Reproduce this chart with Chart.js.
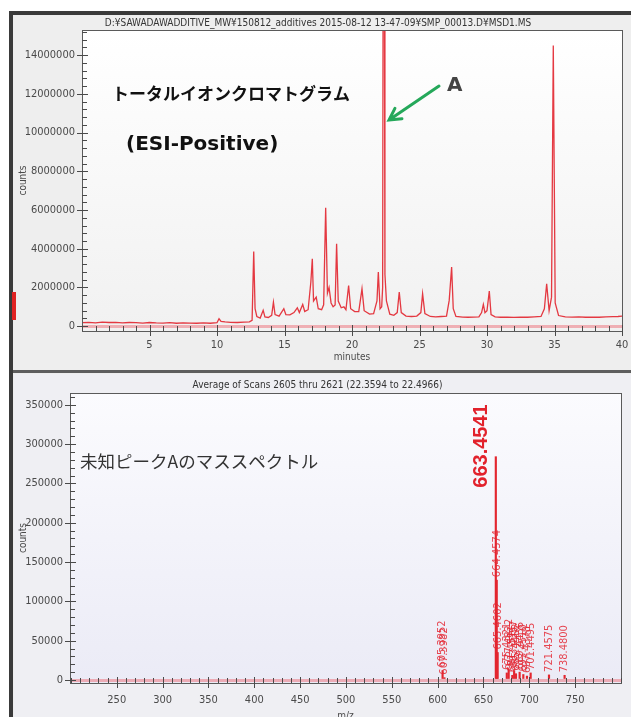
<!DOCTYPE html>
<html>
<head>
<meta charset="utf-8">
<script src="https://cdn.jsdelivr.net/npm/chart.js@4.4.0/dist/chart.umd.min.js"></script>
<style>
html, body { margin: 0; padding: 0; width: 631px; height: 717px; overflow: hidden; background: #fff; }
#frame { position: absolute; left: 9px; top: 11px; width: 640px; height: 720px; box-sizing: border-box;
         border-left: 4px solid #3a3a3a; border-top: 4px solid #3a3a3a; background: #ededed; }
#tic { position: absolute; left: 14px; top: 16px; }
#ms { position: absolute; left: 14px; top: 374px; }
#sep { position: absolute; left: 13px; top: 370px; width: 620px; height: 3px; background: #5e5e5e; }
#mark { position: absolute; left: 12px; top: 292px; width: 4px; height: 28px; background: #e02222; }
</style>
</head>
<body>
<div id="frame"></div>
<canvas id="tic" width="617" height="354"></canvas>
<div id="sep"></div>
<canvas id="ms" width="617" height="360"></canvas>
<div id="mark"></div>
<script>
// total ion chromatogram
const ticMinutes = [0.0, 0.5, 1.0, 1.5, 2.0, 2.5, 3.0, 3.5, 4.0, 4.5, 5.0, 5.5, 6.0, 6.5, 7.0, 7.5, 8.0, 8.5, 9.0, 9.5,
  10.0, 10.15, 10.3, 10.6, 11.0, 11.5, 12.0, 12.4, 12.6, 12.72, 12.82, 12.95, 13.2, 13.42, 13.55, 13.8, 14.05, 14.18, 14.3, 14.6,
  14.95, 15.1, 15.4, 15.7, 15.95, 16.1, 16.35, 16.5, 16.75, 16.95, 17.06, 17.15, 17.35, 17.5, 17.75, 17.9, 18.05, 18.18, 18.3, 18.45,
  18.6, 18.75, 18.86, 18.98, 19.2, 19.4, 19.55, 19.75, 19.9, 20.2, 20.5, 20.74, 20.9, 21.3, 21.6, 21.85, 21.95, 22.08, 22.2, 22.27,
  22.30, 22.40, 22.44, 22.55, 22.8, 23.1, 23.35, 23.5, 23.65, 24.0, 24.4, 24.8, 25.1, 25.23, 25.4, 25.8, 26.2, 26.6, 27.0, 27.2,
  27.38, 27.5, 27.7, 28.2, 28.6, 29.0, 29.4, 29.6, 29.73, 29.85, 30.0, 30.17, 30.3, 30.6, 31.0, 31.5, 32.0, 32.5, 33.0, 33.5,
  34.0, 34.25, 34.42, 34.6, 34.78, 34.91, 35.05, 35.3, 35.8, 36.3, 36.8, 37.3, 37.8, 38.3, 38.8, 39.3, 39.7, 40.0];
const ticCounts = [180000, 200000, 170000, 210000, 190000, 200000, 170000, 190000, 180000, 160000, 190000, 170000, 160000, 180000, 150000, 170000, 160000, 150000, 170000, 150000,
  180000, 380000, 250000, 220000, 200000, 190000, 210000, 220000, 300000, 3850000, 900000, 500000, 420000, 820000, 480000, 450000, 560000, 1240000, 600000, 520000,
  900000, 600000, 580000, 700000, 950000, 700000, 1120000, 760000, 850000, 2270000, 3480000, 1300000, 1500000, 900000, 850000, 1100000, 6120000, 1700000, 2000000, 1200000,
  1000000, 1100000, 4260000, 1300000, 950000, 1000000, 850000, 2100000, 900000, 750000, 750000, 1930000, 800000, 620000, 650000, 1300000, 2790000, 900000, 1000000, 2000000,
  16500000, 16500000, 2670000, 1300000, 620000, 560000, 700000, 1760000, 700000, 520000, 500000, 520000, 700000, 1670000, 650000, 500000, 480000, 500000, 520000, 1330000,
  3050000, 900000, 500000, 470000, 460000, 470000, 480000, 700000, 1120000, 700000, 800000, 1810000, 600000, 480000, 460000, 470000, 450000, 470000, 460000, 480000,
  500000, 900000, 2190000, 800000, 1500000, 14500000, 1200000, 550000, 480000, 470000, 480000, 460000, 470000, 460000, 480000, 490000, 500000, 520000];
const ticXTicks = [5, 10, 15, 20, 25, 30, 35, 40];
const ticYTicks = [0, 2000000, 4000000, 6000000, 8000000, 10000000, 12000000, 14000000];

// mass spectrum of unknown peak A
const msMz = [605.3952, 607.3982, 663.4541, 664.4574, 665.4602, 675.4321, 677.4822, 681.4511, 683.4357,
  685.4402, 689.4436, 693.4510, 697.4378, 701.4495, 721.4575, 738.4800];
const msCounts = [12000, 3000, 284000, 127000, 35000, 9000, 14000, 6000, 12000,
  8000, 10000, 7000, 5000, 9000, 6500, 6000];
const msPeakLabels = ['605.3952', '607.3982', '', '664.4574', '665.4602', '675.4321', '677.4822', '681.4511', '683.4357',
  '685.4402', '689.4436', '693.4510', '697.4378', '701.4495', '721.4575', '738.4800'];
const msBasePeak = '663.4541';
const msXTicks = [250, 300, 350, 400, 450, 500, 550, 600, 650, 700, 750];
const msYTicks = [0, 50000, 100000, 150000, 200000, 250000, 300000, 350000];

const NARROW = "'Liberation Sans Narrow', 'DejaVu Sans Condensed', sans-serif";
const AXIS_GREY = '#4a4a4a';

function fixWidth(w) { return s => { s.width = w; }; }
function fixHeight(h) { return s => { s.height = h; s.paddingLeft = 0; s.paddingRight = 0; }; }
function useTicks(arr) { return s => { s.ticks = arr.map(v => ({ value: v })); }; }
function zeroLine(ctx) { return ctx.tick && ctx.tick.value === 0 ? 'rgba(236,120,130,0.55)' : 'rgba(0,0,0,0)'; }

// background, plot frame and the minor / major tick marks
const panel = {
  id: 'panel',
  beforeDraw(chart, args, o) {
    const { ctx, chartArea: a } = chart;
    ctx.save();
    ctx.fillStyle = o.bg;
    ctx.fillRect(0, 0, chart.width, chart.height);
    const g = ctx.createLinearGradient(0, a.top, 0, a.bottom);
    g.addColorStop(0, o.plotTop);
    g.addColorStop(1, o.plotBottom);
    ctx.fillStyle = g;
    ctx.fillRect(a.left, a.top, a.right - a.left, a.bottom - a.top);
    ctx.restore();
  },
  afterDatasetsDraw(chart, args, o) {
    const { ctx, chartArea: a, scales } = chart;
    const x = scales.x, y = scales.y;
    ctx.save();
    ctx.strokeStyle = '#5a5a5a';
    ctx.lineWidth = 1;
    ctx.strokeRect(Math.round(a.left) + 0.5, Math.round(a.top) + 0.5, Math.round(a.right - a.left), Math.round(a.bottom - a.top));
    ctx.strokeStyle = AXIS_GREY;
    ctx.beginPath();
    for (let i = 0; ; i++) {
      const v = o.xStart + i * o.xMinor;
      if (v > x.max) break;
      if (v < x.min) continue;
      const px = Math.round(x.getPixelForValue(v)) + 0.5;
      ctx.moveTo(px, a.bottom - 5);
      ctx.lineTo(px, a.bottom);
    }
    for (let i = 0; ; i++) {
      const v = i * o.yMinor;
      if (v > y.max) break;
      const py = Math.round(y.getPixelForValue(v)) + 0.5;
      ctx.moveTo(a.left, py);
      ctx.lineTo(a.left + 5, py);
    }
    x.ticks.forEach(t => {
      const px = Math.round(x.getPixelForValue(t.value)) + 0.5;
      ctx.moveTo(px, a.bottom - 6);
      ctx.lineTo(px, a.bottom + 5);
    });
    y.ticks.forEach(t => {
      const py = Math.round(y.getPixelForValue(t.value)) + 0.5;
      ctx.moveTo(a.left - 5, py);
      ctx.lineTo(a.left + 6, py);
    });
    ctx.stroke();
    ctx.restore();
  }
};

// free text and the arrow
const notes = {
  id: 'notes',
  afterDraw(chart, args, o) {
    const ctx = chart.ctx;
    ctx.save();
    (o.texts || []).forEach(t => {
      ctx.font = t.font;
      ctx.fillStyle = t.color;
      ctx.textAlign = 'left';
      ctx.textBaseline = 'middle';
      ctx.fillText(t.text, t.x, t.y);
    });
    (o.arrows || []).forEach(r => {
      ctx.strokeStyle = r.color;
      ctx.lineWidth = r.width;
      ctx.lineCap = 'round';
      ctx.beginPath();
      ctx.moveTo(r.x1, r.y1);
      ctx.lineTo(r.x2, r.y2);
      const ang = Math.atan2(r.y2 - r.y1, r.x2 - r.x1);
      ctx.moveTo(r.x2 - 13 * Math.cos(ang - 0.5), r.y2 - 13 * Math.sin(ang - 0.5));
      ctx.lineTo(r.x2, r.y2);
      ctx.lineTo(r.x2 - 13 * Math.cos(ang + 0.5), r.y2 - 13 * Math.sin(ang + 0.5));
      ctx.stroke();
    });
    ctx.restore();
  }
};

// rotated m/z labels above the sticks
const peakLabels = {
  id: 'peakLabels',
  afterDatasetsDraw(chart) {
    const { ctx, scales } = chart;
    ctx.save();
    ctx.textBaseline = 'middle';
    ctx.textAlign = 'left';
    msMz.forEach((m, i) => {
      const px = scales.x.getPixelForValue(m);
      const py = scales.y.getPixelForValue(msCounts[i]);
      if (msPeakLabels[i]) {
        ctx.save();
        ctx.translate(px, py - 3);
        ctx.rotate(-Math.PI / 2);
        ctx.font = '11px ' + NARROW;
        ctx.fillStyle = 'rgba(228,40,52,0.85)';
        ctx.fillText(msPeakLabels[i], 0, 0);
        ctx.restore();
      } else {
        ctx.save();
        ctx.translate(px - 14, py + 31);
        ctx.rotate(-Math.PI / 2);
        ctx.font = 'bold 20px "Liberation Sans", Arial, sans-serif';
        ctx.fillStyle = '#e2222c';
        ctx.fillText(msBasePeak, 0, 0);
        ctx.restore();
      }
    });
    ctx.restore();
  }
};

const tickFont = { family: NARROW, size: 11 };

new Chart(document.getElementById('tic'), {
  type: 'line',
  data: {
    datasets: [{
      data: ticMinutes.map((t, i) => ({ x: t, y: ticCounts[i] })),
      borderColor: 'rgba(226,36,46,0.9)',
      borderWidth: 1.3,
      pointRadius: 0,
      tension: 0,
      fill: false
    }]
  },
  options: {
    responsive: false,
    animation: false,
    layout: { padding: { left: 0, right: 9, top: 0, bottom: 0 } },
    plugins: {
      legend: { display: false },
      tooltip: { enabled: false },
      title: {
        display: true,
        text: 'D:¥SAWADAWADDITIVE_MW¥150812_additives 2015-08-12 13-47-09¥SMP_00013.D¥MSD1.MS',
        font: { family: NARROW, size: 10, weight: 'normal' },
        color: '#333',
        padding: { top: 1, bottom: 1 }
      },
      panel: { bg: '#eeeeee', plotTop: '#ffffff', plotBottom: '#f1f1f1', xStart: 0, xMinor: 1, yMinor: 400000 },
      notes: {
        texts: [
          { text: 'トータルイオンクロマトグラム', x: 98, y: 78, font: 'bold 17px "Noto Sans CJK JP"', color: '#111' },
          { text: '(ESI-Positive)', x: 112, y: 129, font: 'bold 20px "DejaVu Sans"', color: '#111' },
          { text: 'A', x: 433, y: 70, font: 'bold 20px "DejaVu Sans"', color: '#444' }
        ],
        arrows: [{ x1: 425, y1: 70, x2: 375, y2: 104, color: '#25a85a', width: 3 }]
      }
    },
    scales: {
      x: {
        type: 'linear', min: 0, max: 40,
        afterBuildTicks: useTicks(ticXTicks),
        afterFit: fixHeight(39),
        grid: { display: false, drawTicks: false },
        border: { display: false },
        ticks: { font: tickFont, color: AXIS_GREY, padding: 8, maxRotation: 0, autoSkip: false },
        title: { display: true, text: 'minutes', font: { family: NARROW, size: 10 }, color: AXIS_GREY, padding: { top: 0, bottom: 7 } }
      },
      y: {
        type: 'linear', min: -250000, max: 15300000,
        afterBuildTicks: useTicks(ticYTicks),
        afterFit: fixWidth(68),
        grid: { drawTicks: false, color: zeroLine, lineWidth: 3 },
        border: { display: false },
        ticks: { font: tickFont, color: AXIS_GREY, padding: 7, autoSkip: false, callback: v => String(v) },
        title: { display: true, text: 'counts', font: { family: NARROW, size: 10 }, color: AXIS_GREY, padding: { top: 3, bottom: 0 } }
      }
    }
  },
  plugins: [panel, notes]
});

new Chart(document.getElementById('ms'), {
  type: 'bar',
  data: {
    datasets: [{
      data: msMz.map((m, i) => ({ x: m, y: msCounts[i] })),
      backgroundColor: '#e3262f',
      borderWidth: 0,
      barThickness: 1.5
    }]
  },
  options: {
    responsive: false,
    animation: false,
    layout: { padding: { left: 0, right: 10, top: 0, bottom: 0 } },
    plugins: {
      legend: { display: false },
      tooltip: { enabled: false },
      title: {
        display: true,
        text: 'Average of Scans 2605 thru 2621 (22.3594 to 22.4966)',
        font: { family: NARROW, size: 10, weight: 'normal' },
        color: '#333',
        padding: { top: 5, bottom: 2 }
      },
      panel: { bg: '#efeff3', plotTop: '#fbfbfe', plotBottom: '#ebebf6', xStart: 200, xMinor: 10, yMinor: 10000 },
      notes: {
        texts: [
          { text: '未知ピークAのマススペクトル', x: 66, y: 87, font: '17.5px "Noto Sans CJK JP"', color: '#333' }
        ]
      }
    },
    scales: {
      x: {
        type: 'linear', min: 199, max: 800, offset: false,
        afterBuildTicks: useTicks(msXTicks),
        afterFit: fixHeight(51),
        grid: { display: false, drawTicks: false, offset: false },
        border: { display: false },
        ticks: { font: tickFont, color: AXIS_GREY, padding: 11, maxRotation: 0, autoSkip: false },
        title: { display: true, text: 'm/z', font: { family: NARROW, size: 10 }, color: AXIS_GREY, padding: { top: 2, bottom: 12 } }
      },
      y: {
        type: 'linear', min: -3800, max: 365000,
        afterBuildTicks: useTicks(msYTicks),
        afterFit: fixWidth(56),
        grid: { drawTicks: false, color: zeroLine, lineWidth: 3 },
        border: { display: false },
        ticks: { font: tickFont, color: AXIS_GREY, padding: 7, autoSkip: false, callback: v => String(v) },
        title: { display: true, text: 'counts', font: { family: NARROW, size: 10 }, color: AXIS_GREY, padding: { top: 3, bottom: 0 } }
      }
    }
  },
  plugins: [panel, notes, peakLabels]
});
</script>
</body>
</html>
